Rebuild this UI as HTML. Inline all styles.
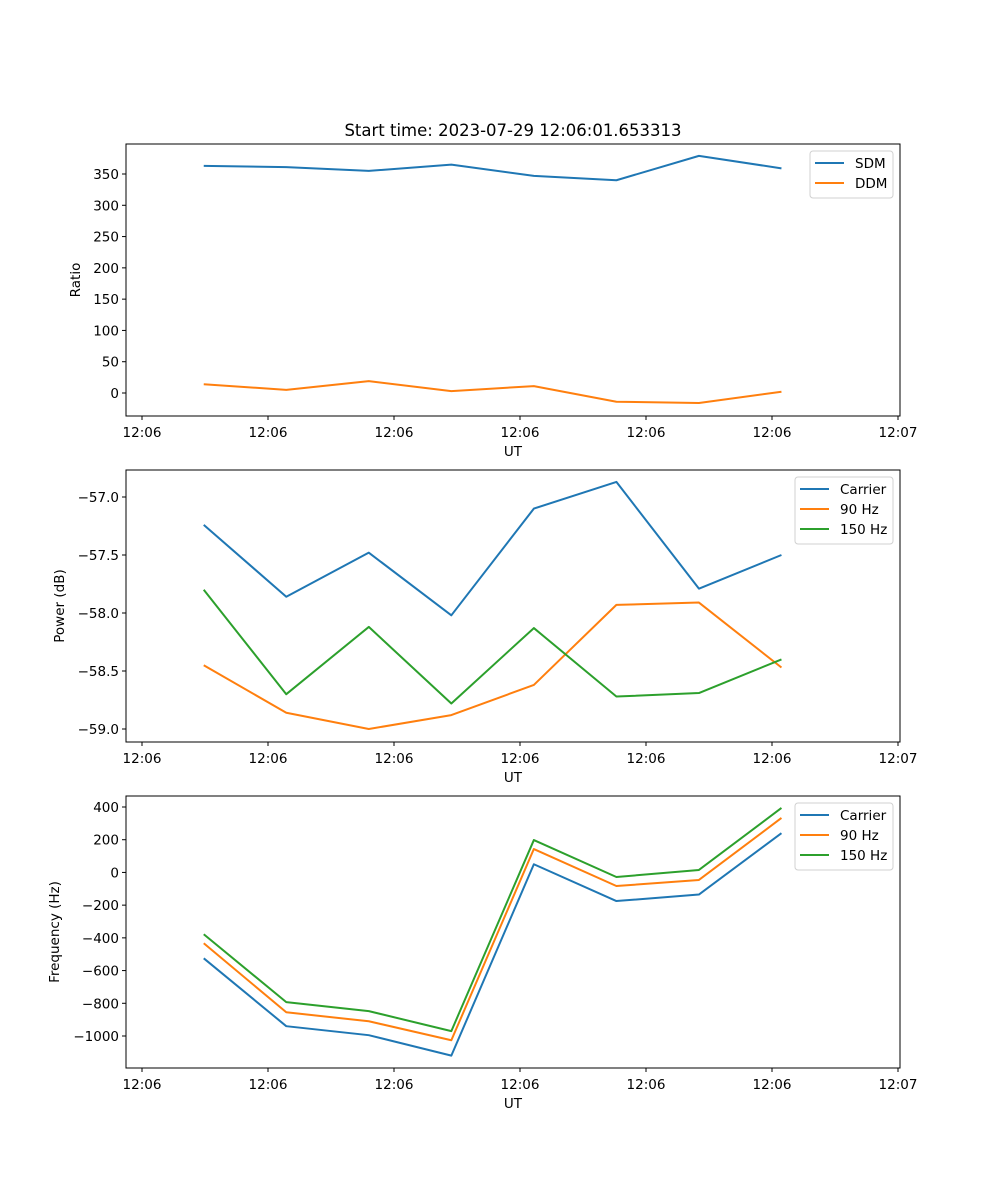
<!DOCTYPE html>
<html><head><meta charset="utf-8"><style>
body{margin:0;background:#fff}
svg{display:block;font-family:"DejaVu Sans","Liberation Sans",sans-serif}
</style></head><body>
<svg id="c" width="1000" height="1200" xmlns="http://www.w3.org/2000/svg"></svg>
<script>
// shared x data (seconds after 12:06:00)
const times = [4.9, 11.45, 18.0, 24.55, 31.1, 37.65, 44.2, 50.75];
const xTickValues = [0, 10, 20, 30, 40, 50, 60];
const xTickLabels = ["12:06","12:06","12:06","12:06","12:06","12:06","12:07"];
// panel 1
const sdm = [363, 361, 355, 365, 347, 340, 379, 359];
const ddm = [14, 5, 19, 3, 11, -14, -16, 2];
const p1Ticks = [0, 50, 100, 150, 200, 250, 300, 350];
// panel 2
const pwrCarrier = [-57.24, -57.86, -57.48, -58.02, -57.10, -56.87, -57.79, -57.50];
const pwr90 = [-58.45, -58.86, -59.0, -58.88, -58.62, -57.93, -57.91, -58.47];
const pwr150 = [-57.80, -58.70, -58.12, -58.78, -58.13, -58.72, -58.69, -58.40];
const p2Ticks = [-57.0, -57.5, -58.0, -58.5, -59.0];
// panel 3
const frqCarrier = [-525, -940, -995, -1120, 50, -175, -135, 240];
const frq90 = [-433, -855, -910, -1026, 143, -83, -46, 333];
const frq150 = [-378, -793, -848, -970, 198, -28, 15, 394];
const p3Ticks = [400, 200, 0, -200, -400, -600, -800, -1000];

const NS="http://www.w3.org/2000/svg";
const svg=document.getElementById('c');
function el(tag,attrs,parent){const e=document.createElementNS(NS,tag);for(const k in attrs)e.setAttribute(k,attrs[k]);(parent||svg).appendChild(e);return e;}
const L=126,R=900;
const xs=t=>142+t*(898-142)/60;

function panel(o){
  const g=el('g',{});
  
  
  const ys=v=>o.y0px+(v-o.y0)*(o.y1px-o.y0px)/(o.y1-o.y0);
  o.yticks.forEach(v=>{
    const y=ys(v);
    el('line',{x1:L-4,x2:L,y1:y,y2:y,stroke:'#000','stroke-width':1},g);
    const t=el('text',{x:L-7,y:y+5,'text-anchor':'end','font-size':13.5},g);
    
    
    t.textContent=o.fmt(v).replace('-','\u2212');
  });
  xTickValues.forEach((v,i)=>{
    const x=xs(v);
    el('line',{x1:x,x2:x,y1:o.bot,y2:o.bot+4,stroke:'#000','stroke-width':1},g);
    const t=el('text',{x:x,y:o.bot+21,'text-anchor':'middle','font-size':13.5},g);
    
    
    t.textContent=xTickLabels[i];
  });
  const xl=el('text',{x:(L+R)/2,y:o.bot+40,'text-anchor':'middle','font-size':13.5},g);
  
  
  xl.textContent='UT';
  const yl=el('text',{x:0,y:0,'text-anchor':'middle','font-size':13.5,transform:`translate(${o.ylx},${(o.top+o.bot)/2}) rotate(-90)`},g);
  
  
  yl.textContent=o.ylabel;
  o.series.forEach(s=>{
    const p=el('polyline',{points:s.data.map((v,i)=>xs(times[i])+','+ys(v)).join(' '),fill:'none',stroke:s.color,'stroke-width':2,'stroke-linejoin':'round'},g);
    
    
  });
  const fr=el('rect',{x:L,y:o.top,width:R-L,height:o.bot-o.top,fill:'none',stroke:'#000','stroke-width':1},g);
  
  
  const lg=el('g',{},g);
  
  
  const lh=o.series.length*20+7;
  el('rect',{x:o.lx,y:o.top+7,width:R-7-o.lx,height:lh,rx:3,fill:'#fff',stroke:'#d0d0d0','stroke-width':1},lg);
  o.series.forEach((s,i)=>{
    const y=o.top+19+i*20;
    el('line',{x1:o.lx+5,x2:o.lx+34,y1:y,y2:y,stroke:s.color,'stroke-width':2},lg);
    const t=el('text',{x:o.lx+45,y:y+5,'font-size':13.5},lg);
    
    
    t.textContent=s.label;
  });
}
const B='#1f77b4',O='#ff7f0e',G='#2ca02c';
const title=el('text',{x:513,y:136,'text-anchor':'middle','font-size':16.5});


title.textContent='Start time: 2023-07-29 12:06:01.653313';

panel({name:'ratio-panel',top:144,bot:416,y0:0,y1:350,y0px:393,y1px:174,yticks:p1Ticks,fmt:v=>String(v),ylabel:'Ratio',ylx:80,lx:810,
 series:[{key:'sdm',label:'SDM',color:B,data:sdm},{key:'ddm',label:'DDM',color:O,data:ddm}]});
panel({name:'power-panel',top:470,bot:742,y0:-57,y1:-59,y0px:497,y1px:729,yticks:p2Ticks,fmt:v=>v.toFixed(1),ylabel:'Power (dB)',ylx:64,lx:795,
 series:[{key:'carrier',label:'Carrier',color:B,data:pwrCarrier},{key:'90hz',label:'90 Hz',color:O,data:pwr90},{key:'150hz',label:'150 Hz',color:G,data:pwr150}]});
panel({name:'frequency-panel',top:796,bot:1068,y0:400,y1:-1000,y0px:807,y1px:1036,yticks:p3Ticks,fmt:v=>String(v),ylabel:'Frequency (Hz)',ylx:59,lx:795,
 series:[{key:'carrier',label:'Carrier',color:B,data:frqCarrier},{key:'90hz',label:'90 Hz',color:O,data:frq90},{key:'150hz',label:'150 Hz',color:G,data:frq150}]});
</script>
</body></html>
